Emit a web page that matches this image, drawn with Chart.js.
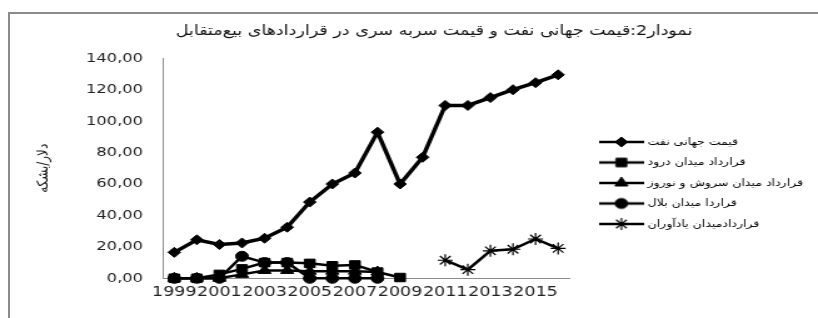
<!DOCTYPE html>
<html>
<head>
<meta charset="utf-8">
<script src="https://cdn.jsdelivr.net/npm/chart.js@4/dist/chart.umd.min.js"></script>
<style>
    html, body { margin: 0; padding: 0; background: #fff; overflow: hidden; }
    #wrap { position: relative; width: 818px; height: 318px; }
    #frame {
        position: absolute; left: 8px; top: 12px; width: 900px; height: 400px;
        border-left: 2px solid #8c8c8c; border-top: 2px solid #8c8c8c;
    }
    /* the original picture is stretched sideways, so the canvas is too */
    #chart { position: absolute; left: 0; top: 0; width: 818px; height: 318px; }
</style>
</head>
<body>
<div id="wrap">
    <div id="frame"></div>
    <canvas id="chart" width="654" height="318" style="width: 818px; height: 318px;"></canvas>
</div>
<script>
const years = ['1999', '2000', '2001', '2002', '2003', '2004', '2005', '2006', '2007',
    '2008', '2009', '2010', '2011', '2012', '2013', '2014', '2015', '2016'];
const oilPrice = [16.5, 24.5, 21.5, 22.5, 25.5, 32.5, 48.5, 60, 67, 93, 60, 77, 110, 110, 115, 120, 124.5, 129.5];
const darudContract = [0, 0, 2.5, 6, 10, 10, 9.5, 8, 8.5, 4, 0.5, null, null, null, null, null, null, null];
const soroushNowruzContract = [0, 0, 0, 2.5, 5, 5, 4.5, 4.5, 4.5, 4, null, null, null, null, null, null, null, null];
const balalContract = [0, 0, 0, 14, 10, 10, 0, 0, 0, 0, null, null, null, null, null, null, null, null];
const yadavaranContract = [null, null, null, null, null, null, null, null, null, null, null, null, 11.5, 5.5, 17.5, 18.5, 25, 19];
const yTicks = [0, 20, 40, 60, 80, 100, 120, 140];

const seriesNames = [
    'قیمت جهانی نفت',
    'قرارداد میدان درود',
    'قرارداد میدان سروش و نوروز',
    'قراردا میدان بلال',
    'قراردادمیدان یادآوران'
];
const titleText = 'نمودار2:قیمت جهانی نفت و قیمت سربه سری در قراردادهای بیع\u200cمتقابل';
const yTitle = 'دلار/بشکه';

const FONT = "'DejaVu Sans', sans-serif";

function lineSeries(label, data, pointStyle, radius, width) {
    return {
        label: label,
        data: data,
        borderColor: '#000',
        backgroundColor: '#000',
        borderWidth: width,
        pointStyle: pointStyle,
        pointRadius: radius,
        pointBackgroundColor: '#000',
        pointBorderColor: '#000',
        pointBorderWidth: pointStyle === 'star' ? 1.2 : 1,
        tension: 0,
        clip: false
    };
}

// legend swatch: short line with the marker in the middle
function legendSwatch(ds) {
    const c = document.createElement('canvas');
    c.width = 36;
    c.height = 16;
    const ctx = c.getContext('2d');
    ctx.strokeStyle = '#000';
    ctx.fillStyle = '#000';
    ctx.lineWidth = 2.5;
    ctx.beginPath();
    ctx.moveTo(0, 8);
    ctx.lineTo(36, 8);
    ctx.stroke();
    ctx.lineWidth = ds.pointBorderWidth;
    Chart.helpers.drawPoint(ctx, {
        pointStyle: ds.pointStyle,
        radius: ds.pointRadius,
        borderWidth: ds.pointBorderWidth,
        rotation: 0
    }, 18, 8);
    return c;
}

// move the legend block down beside the plot, as in the picture
const legendNudge = {
    id: 'legendNudge',
    afterLayout(chart) {
        const lg = chart.legend;
        lg.left += 15; lg.right += 15;
        lg.top += 126.5; lg.bottom += 126.5;
    }
};

const datasets = [
    lineSeries(seriesNames[0], oilPrice, 'rectRot', 5, 3.5),
    lineSeries(seriesNames[1], darudContract, 'rect', 6, 2.5),
    lineSeries(seriesNames[2], soroushNowruzContract, 'triangle', 6, 2.5),
    lineSeries(seriesNames[3], balalContract, 'circle', 5, 2.5),
    lineSeries(seriesNames[4], yadavaranContract, 'star', 6, 2.5)
];

const ctx = document.getElementById('chart').getContext('2d');
new Chart(ctx, {
    type: 'line',
    data: { labels: years, datasets: datasets },
    plugins: [legendNudge],
    options: {
        responsive: false,
        devicePixelRatio: 1,
        animation: false,
        layout: { padding: { left: 57, right: 17, top: 0, bottom: 0 } },
        plugins: {
            tooltip: { enabled: false },
            title: {
                display: true,
                text: titleText,
                color: '#111',
                font: { family: FONT, size: 14, weight: 'normal' },
                padding: { top: 22.5, bottom: 19 }
            },
            legend: {
                position: 'right',
                align: 'start',
                maxWidth: 200,
                labels: {
                    usePointStyle: true,
                    pointStyleWidth: 32,
                    padding: 10.5,
                    color: '#111',
                    font: { family: FONT, size: 10 },
                    generateLabels: chart => chart.data.datasets.map((ds, i) => ({
                        text: ds.label,
                        pointStyle: legendSwatch(ds),
                        fillStyle: '#000',
                        strokeStyle: '#000',
                        lineWidth: 0,
                        hidden: false,
                        datasetIndex: i
                    }))
                }
            }
        },
        scales: {
            x: {
                offset: true,
                grid: { display: false, drawTicks: false },
                border: { display: true, color: '#8c8c8c', width: 1 },
                ticks: {
                    autoSkip: false,
                    maxRotation: 0,
                    minRotation: 0,
                    padding: 6,
                    color: '#222',
                    font: { family: FONT, size: 14 },
                    callback: (val, i) => (i % 2 === 0 ? years[i] : '')
                },
                afterFit: scale => { scale.height = 39.7; }
            },
            y: {
                min: 0,
                max: 140,
                grid: { display: false, drawTicks: false },
                border: { display: true, color: '#8c8c8c', width: 1 },
                afterBuildTicks: scale => { scale.ticks = yTicks.map(v => ({ value: v })); },
                ticks: {
                    padding: 16,
                    color: '#222',
                    font: { family: FONT, size: 13 },
                    callback: v => v.toFixed(2).replace('.', ',')
                },
                title: {
                    display: true,
                    text: yTitle,
                    color: '#111',
                    font: { family: FONT, size: 12 },
                    padding: { top: -29, bottom: 0 }
                },
                afterFit: scale => { scale.width = 73.3; }
            }
        }
    }
});
</script>
</body>
</html>
